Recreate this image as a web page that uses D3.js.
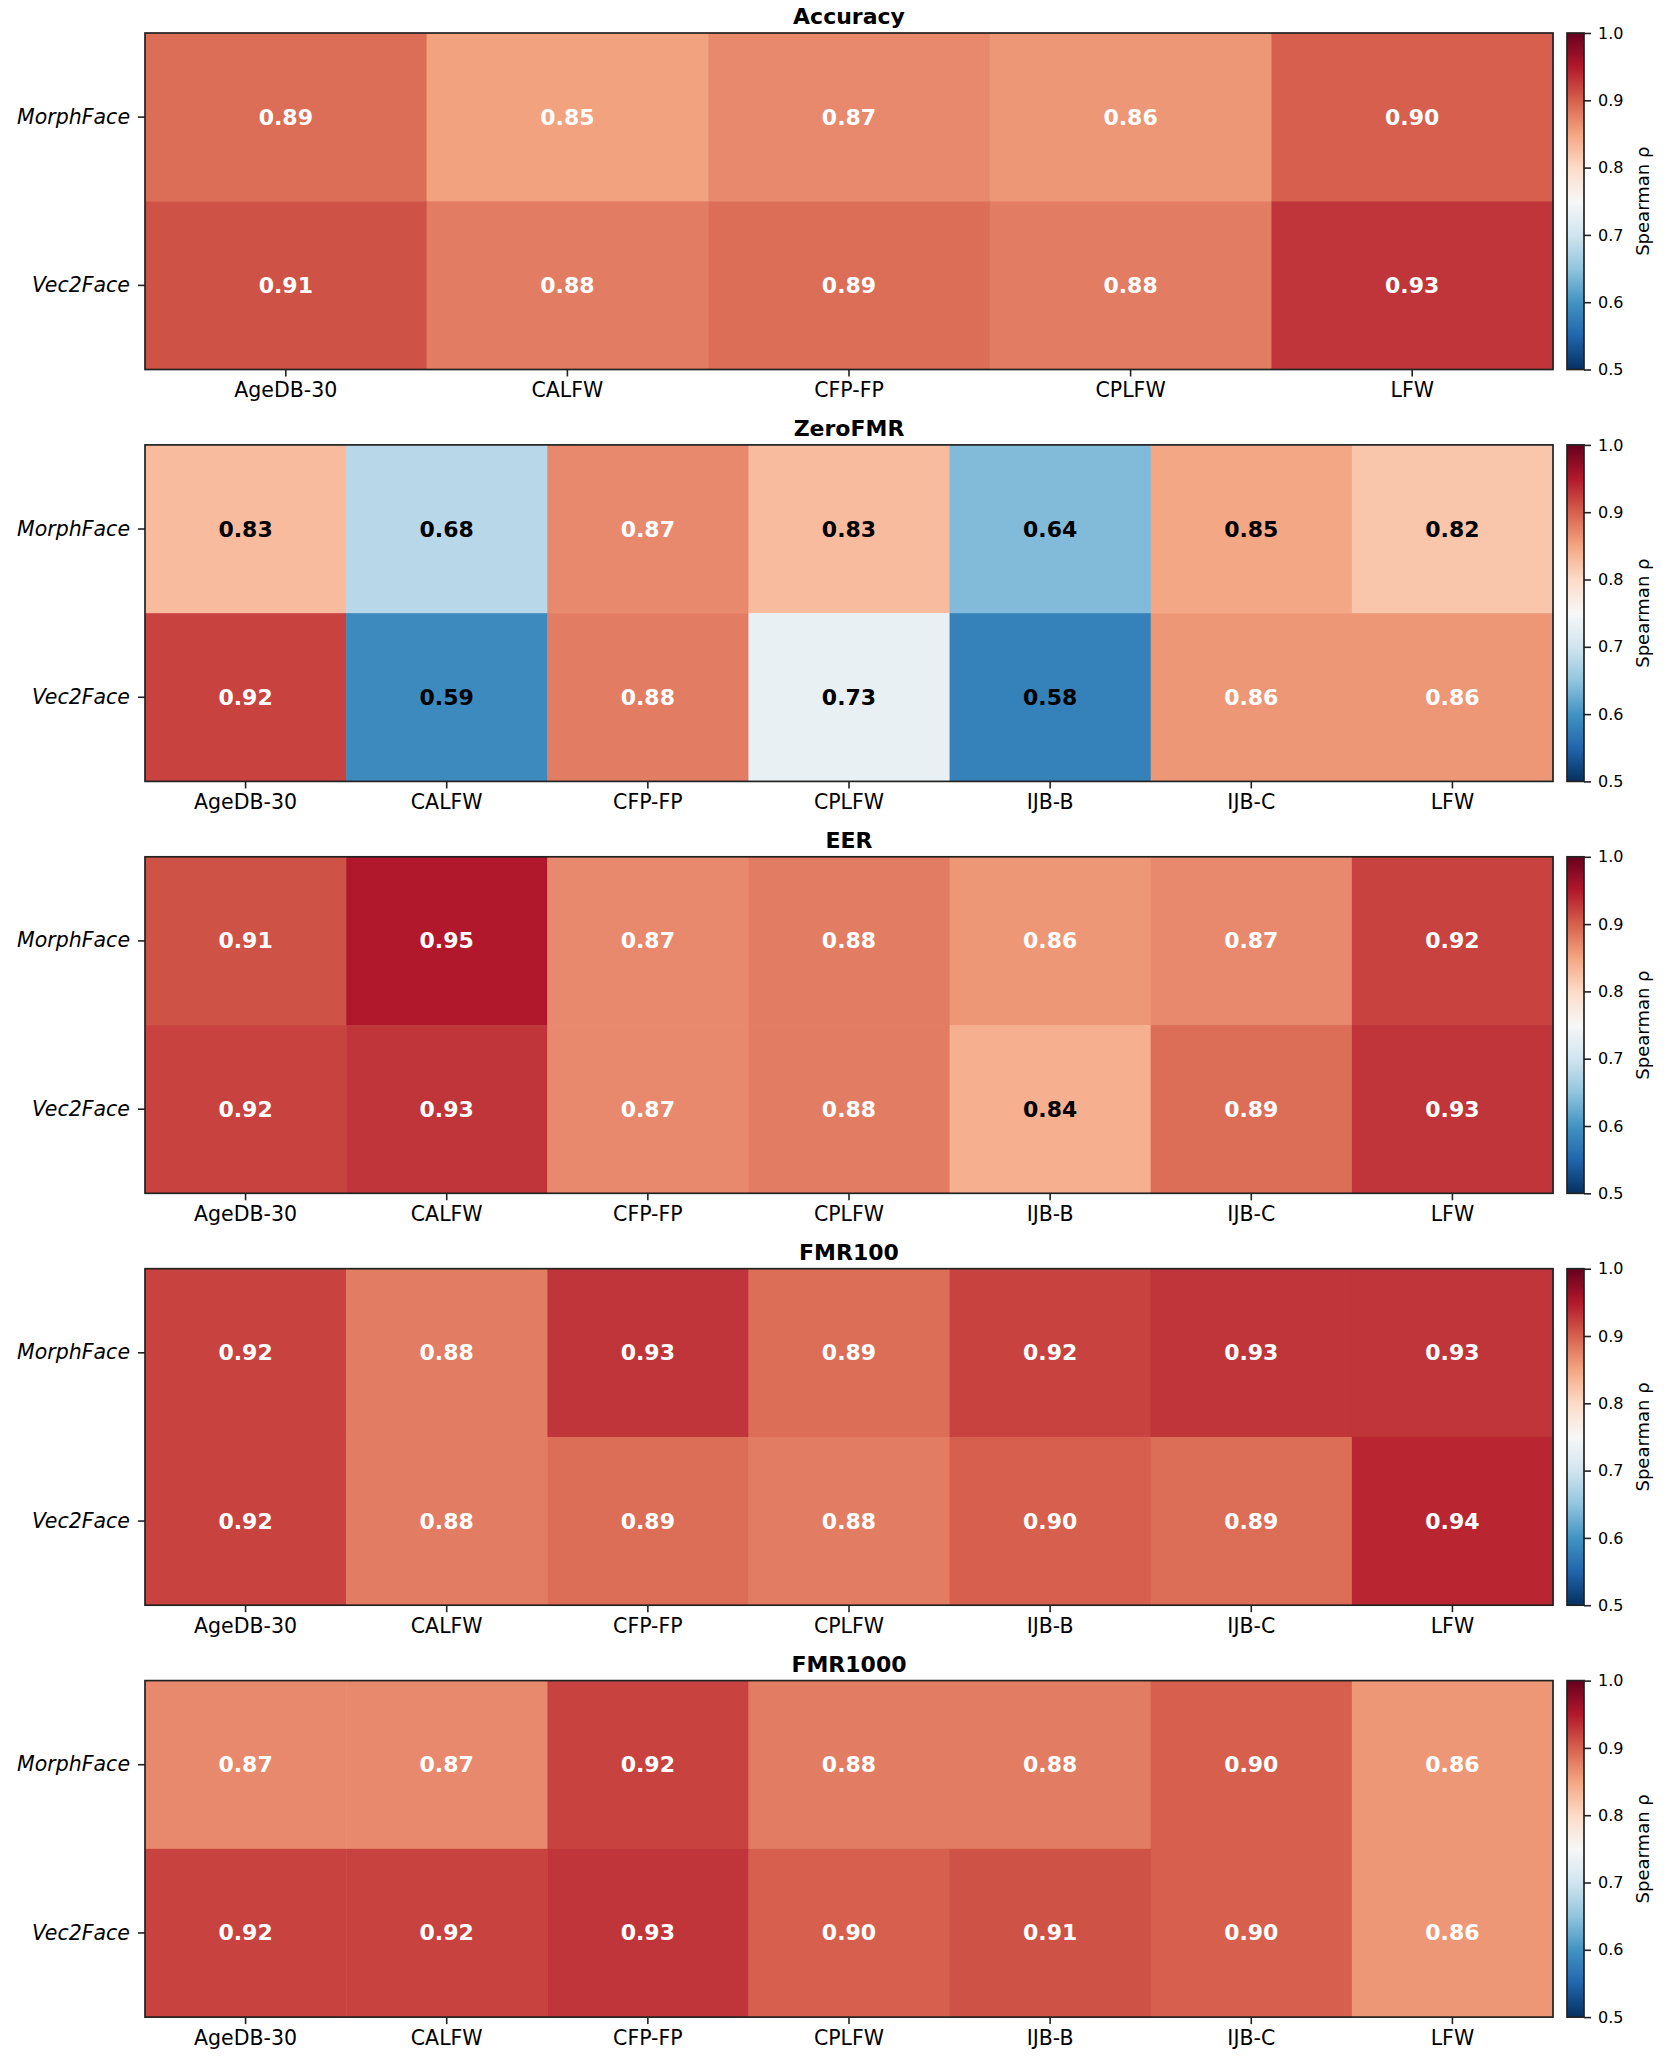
<!DOCTYPE html>
<html>
<head>
<meta charset="utf-8">
<script src="https://cdn.jsdelivr.net/npm/d3@7"></script>
<style>
  body { margin: 0; background: #fff; }
  svg { display: block; font-family: "DejaVu Sans", sans-serif; }
</style>
</head>
<body>
<svg id="chart" width="1667" height="2067"></svg>
<script>
// data
const models = ['MorphFace', 'Vec2Face'];
const benchFive = ['AgeDB-30', 'CALFW', 'CFP-FP', 'CPLFW', 'LFW'];
const benchSeven = ['AgeDB-30', 'CALFW', 'CFP-FP', 'CPLFW', 'IJB-B', 'IJB-C', 'LFW'];
const metrics = ['Accuracy', 'ZeroFMR', 'EER', 'FMR100', 'FMR1000'];

const accuracyVals = [
  [0.89, 0.852, 0.87, 0.86, 0.90],
  [0.91, 0.88, 0.89, 0.88, 0.93]
];
const zeroFmrVals = [
  [0.83, 0.68, 0.87, 0.83, 0.64, 0.848, 0.82],
  [0.92, 0.59, 0.88, 0.73, 0.58, 0.86, 0.86]
];
const eerVals = [
  [0.91, 0.95, 0.87, 0.88, 0.86, 0.87, 0.92],
  [0.92, 0.93, 0.87, 0.88, 0.84, 0.89, 0.93]
];
const fmr100Vals = [
  [0.92, 0.88, 0.93, 0.89, 0.92, 0.93, 0.93],
  [0.92, 0.88, 0.89, 0.88, 0.90, 0.89, 0.94]
];
const fmr1000Vals = [
  [0.87, 0.87, 0.92, 0.88, 0.88, 0.90, 0.86],
  [0.92, 0.92, 0.93, 0.90, 0.91, 0.90, 0.86]
];
const cbarTicks = [0.5, 0.6, 0.7, 0.8, 0.9, 1.0];

const panels = [
  { title: metrics[0], cols: benchFive, vals: accuracyVals },
  { title: metrics[1], cols: benchSeven, vals: zeroFmrVals },
  { title: metrics[2], cols: benchSeven, vals: eerVals },
  { title: metrics[3], cols: benchSeven, vals: fmr100Vals },
  { title: metrics[4], cols: benchSeven, vals: fmr1000Vals }
];

// matplotlib RdBu_r, linear segments
const rdbu = ['#053061', '#2166ac', '#4393c3', '#92c5de', '#d1e5f0', '#f7f7f7',
              '#fddbc7', '#f4a582', '#d6604d', '#b2182b', '#67001f'];
const vmin = 0.5, vmax = 1.0;
const color = d3.scaleLinear()
  .domain(d3.range(11).map(i => vmin + i * (vmax - vmin) / 10))
  .range(rdbu)
  .interpolate(d3.interpolateRgb)
  .clamp(true);

const svg = d3.select('#chart');
const left = 145, right = 1553;
const top0 = 33, step = 411.9, ph = 336.5;
const cbX = 1567, cbW = 17;
const spine = '#222';

const defs = svg.append('defs');
const grad = defs.append('linearGradient').attr('id', 'cbgrad')
  .attr('x1', 0).attr('y1', 1).attr('x2', 0).attr('y2', 0);
d3.range(0, 1.0001, 0.02).forEach(t => {
  grad.append('stop').attr('offset', t).attr('stop-color', color(vmin + t * (vmax - vmin)));
});

panels.forEach((p, i) => {
  const top = top0 + i * step;
  const g = svg.append('g');

  const x = d3.scaleBand().domain(p.cols).range([left, right]);
  const y = d3.scaleBand().domain(models).range([top, top + ph]);

  const cells = [];
  p.vals.forEach((row, r) => row.forEach((v, c) => cells.push({ m: models[r], b: p.cols[c], v })));

  g.selectAll('rect.cell').data(cells).enter().append('rect')
    .attr('class', 'cell')
    .attr('x', d => x(d.b)).attr('y', d => y(d.m))
    .attr('width', x.bandwidth() + 0.5).attr('height', y.bandwidth() + 0.5)
    .attr('fill', d => color(d.v));

  g.selectAll('text.val').data(cells).enter().append('text')
    .attr('class', 'val')
    .attr('x', d => x(d.b) + x.bandwidth() / 2)
    .attr('y', d => y(d.m) + y.bandwidth() / 2)
    .attr('text-anchor', 'middle').attr('dominant-baseline', 'central')
    .attr('font-size', 22).attr('font-weight', 'bold')
    .attr('fill', d => d.v > 0.85 ? '#fff' : '#000')
    .text(d => d.v.toFixed(2));

  // x axis
  const xa = g.append('g').attr('transform', `translate(0,${top + ph})`)
    .call(d3.axisBottom(x).tickSize(7).tickPadding(6));
  xa.select('.domain').remove();
  xa.selectAll('line').attr('stroke', spine).attr('stroke-width', 1.6);
  xa.selectAll('text').attr('font-size', 20.5).attr('fill', '#000')
    .attr('font-family', '"DejaVu Sans", sans-serif');

  // y axis
  const ya = g.append('g').attr('transform', `translate(${left},0)`)
    .call(d3.axisLeft(y).tickSize(7).tickPadding(8));
  ya.select('.domain').remove();
  ya.selectAll('line').attr('stroke', spine).attr('stroke-width', 1.6);
  ya.selectAll('text').attr('font-size', 20.5).attr('fill', '#000')
    .attr('font-style', 'italic').attr('font-family', '"DejaVu Sans", sans-serif');

  g.append('rect').attr('x', left).attr('y', top)
    .attr('width', right - left).attr('height', ph)
    .attr('fill', 'none').attr('stroke', spine).attr('stroke-width', 1.7);

  g.append('text').attr('x', (left + right) / 2).attr('y', top - 9)
    .attr('text-anchor', 'middle').attr('font-size', 22).attr('font-weight', 'bold')
    .text(p.title);

  // colorbar
  const cs = d3.scaleLinear().domain([vmin, vmax]).range([top + ph, top]);
  g.append('rect').attr('x', cbX).attr('y', top).attr('width', cbW).attr('height', ph)
    .attr('fill', 'url(#cbgrad)').attr('stroke', spine).attr('stroke-width', 1.7);
  const ca = g.append('g').attr('transform', `translate(${cbX + cbW},0)`)
    .call(d3.axisRight(cs).tickValues(cbarTicks).tickFormat(d3.format('.1f')).tickSize(7).tickPadding(7));
  ca.select('.domain').remove();
  ca.selectAll('line').attr('stroke', spine).attr('stroke-width', 1.6);
  ca.selectAll('text').attr('font-size', 16).attr('fill', '#000')
    .attr('font-family', '"DejaVu Sans", sans-serif');
  g.append('text')
    .attr('transform', `translate(1642,${top + ph / 2}) rotate(-90)`)
    .attr('text-anchor', 'middle').attr('dominant-baseline', 'central')
    .attr('font-size', 18).text('Spearman ρ');
});
</script>
</body>
</html>
